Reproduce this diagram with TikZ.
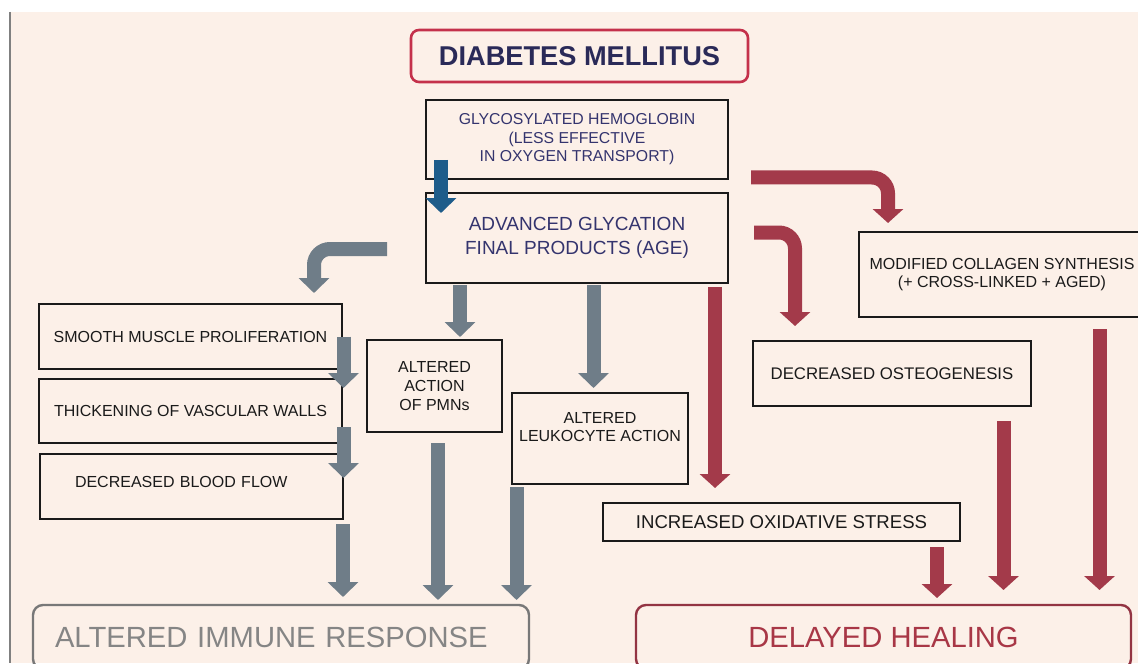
\documentclass[tikz,border=0pt]{standalone}
\usepackage{fontspec}
\setmainfont{Liberation Sans}
\usepackage{xcolor}
\usepackage{tikz}
\usetikzlibrary{arrows.meta, calc}
\definecolor{paper}{HTML}{FCF0E8}
\definecolor{ink}{HTML}{1A1A1A}
\definecolor{navy}{HTML}{34346E}
\definecolor{crimson}{HTML}{C4314B}
\definecolor{wine}{HTML}{A33A4A}
\definecolor{slate}{HTML}{6F7D88}
\definecolor{steel}{HTML}{1E5C8A}
\definecolor{ash}{HTML}{858585}

\begin{document}
\begin{tikzpicture}[
    x=0.5pt, y=-0.5pt,
    cell/.style={draw=ink, line width=1.1pt, align=center, inner sep=0pt, outer sep=0pt,
                 text=ink, font=\fontsize{8}{9.5}\selectfont},
    outcome/.style={rounded corners=5pt, draw=#1, line width=1.2pt,
                    minimum height=32pt, inner sep=0pt, outer sep=0pt,
                    font=\fontsize{14.6}{17}\selectfont},
    gflow/.style={-{Triangle[width=15pt, length=7.5pt]}, draw=slate, line width=7pt},
    rflow/.style={-{Triangle[width=15pt, length=7pt]}, draw=wine, line width=7pt},
    bflow/.style={-{Triangle[width=15pt, length=7.5pt]}, draw=steel, line width=7pt},
  ]
  \useasboundingbox (0,0) rectangle (1138,663);
  \clip (0,0) rectangle (1138,663);
  \fill[white] (0,0) rectangle (1138,663);
  \fill[paper] (10,12) rectangle (1138,663);
  \draw[line width=0.7pt, draw=gray] (10,12) -- (10,663);

  % top of the chain
  \node[rounded corners=4pt, draw=crimson, line width=1.3pt, minimum width=168.5pt,
        minimum height=26pt, text=navy!80!black,
        font=\bfseries\fontsize{13.6}{16}\selectfont] (dm) at (579.5,56) {DIABETES MELLITUS};
  \node[cell, minimum width=151pt, minimum height=39.5pt, text=navy,
        font=\fontsize{7.9}{9.25}\selectfont] (glyco) at (577,139.5)
        {GLYCOSYLATED HEMOGLOBIN\\(LESS EFFECTIVE\\IN OXYGEN TRANSPORT)};
  \node[cell, minimum width=151pt, minimum height=45pt, text=navy,
        font=\fontsize{9.5}{12}\selectfont] (age) at (577,238)
        {ADVANCED GLYCATION\\FINAL PRODUCTS (AGE)};
  \draw[bflow] ($(glyco.south west)+(15,-19)$) -- ($(age.north west)+(15,20)$);

  % vascular side
  \node[cell, minimum width=151.5pt, minimum height=32.5pt] (smooth) at (190.5,336.5) {SMOOTH MUSCLE PROLIFERATION};
  \node[cell, minimum width=151.5pt, minimum height=32pt] (thick) at (190.5,411) {THICKENING OF VASCULAR WALLS};
  \node[cell, minimum width=151.5pt, minimum height=32.5pt, text depth=4.5pt,
        text width=116.5pt, align=left] (blood) at (191.5,486.5) {DECREASED BLOOD FLOW};
  \node[cell, minimum width=67.5pt, minimum height=46pt] (pmn) at (434.5,386) {ALTERED\\ACTION\\OF PMNs};
  \node[cell, minimum width=88pt, minimum height=45.5pt, text depth=11.5pt,
        font=\fontsize{8}{9}\selectfont] (leuk) at (600,438.5) {ALTERED\\LEUKOCYTE ACTION};
  \node[outcome=ash!90!black, minimum width=248pt, text=ash,
        text width=226pt, align=left] (immune) at (281,637) {ALTERED IMMUNE RESPONSE};

  \draw[gflow, rounded corners=8pt] ($(age.west)+(-39,11)$) -| ($(smooth.north east)+(-28,-11)$);
  \draw[gflow] ($(age.south west)+(34,2)$) -- ($(pmn.north east)+(-42,-3)$);
  \draw[gflow] ($(age.south west)+(167.5,2)$) -- ($(leuk.north west)+(81.5,-5)$);
  \draw[gflow] ($(smooth.east)+(1.5,0)$) -- ($(thick.north east)+(1.5,9)$);
  \draw[gflow] ($(thick.east)+(1.5,16)$) -- ($(blood.north east)+(0.5,24)$);
  \draw[gflow] ($(blood.south east)+(0,5)$) -- ($(immune.north west)+(310,-8)$);
  \draw[gflow] ($(pmn.south)+(3.5,11)$) -- ($(immune.north west)+(405,-5)$);
  \draw[gflow] ($(leuk.south west)+(4.5,3)$) -- ($(immune.north west)+(483.5,-5)$);

  % healing side
  \node[cell, minimum width=143pt, minimum height=42.5pt, font=\fontsize{8}{9}\selectfont] (collagen) at (1002,274.5)
        {MODIFIED COLLAGEN SYNTHESIS\\(+ CROSS-LINKED + AGED)};
  \node[cell, minimum width=139pt, minimum height=32.5pt, font=\fontsize{8.4}{10}\selectfont] (osteo) at (892,373.5) {DECREASED OSTEOGENESIS};
  \node[cell, minimum width=178.5pt, minimum height=19pt, font=\fontsize{9.3}{11}\selectfont] (oxid) at (781.5,522) {INCREASED OXIDATIVE STRESS};
  \node[outcome=wine!90!black, minimum width=247.5pt, text=wine!95!red] (heal) at (883.5,637) {DELAYED HEALING};

  \draw[rflow, rounded corners=8pt] ($(glyco.south east)+(23,-1.5)$) -| ($(collagen.north west)+(29,-9)$);
  \draw[rflow, rounded corners=8pt] ($(age.east)+(26,-5.5)$) -| ($(osteo.north west)+(42,-15)$);
  \draw[rflow] ($(age.south east)+(-13,4)$) -- ($(oxid.north west)+(112,-15)$);
  \draw[rflow] ($(oxid.south east)+(-23,6)$) -- ($(heal.north west)+(301,-7)$);
  \draw[rflow] ($(osteo.south west)+(250.5,15)$) -- ($(heal.north west)+(367.5,-15)$);
  \draw[rflow] ($(collagen.south west)+(240.5,12)$) -- ($(heal.north west)+(463.5,-15)$);
\end{tikzpicture}
\end{document}
